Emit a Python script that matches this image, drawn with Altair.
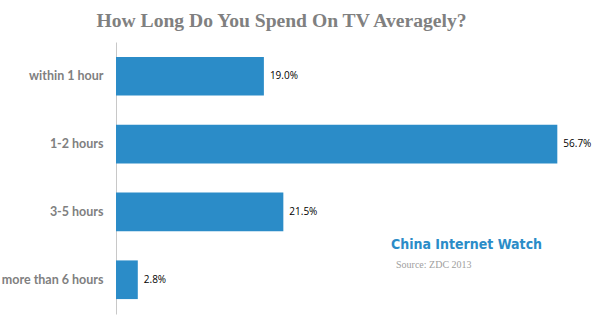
import altair as alt
import pandas as pd

categories = ["within 1 hour", "1-2 hours", "3-5 hours", "more than 6 hours"]
values = [19.0, 56.7, 21.5, 2.8]
labels = ["19.0%", "56.7%", "21.5%", "2.8%"]

df = pd.DataFrame({"cat": categories, "val": values, "lab": labels})

y = alt.Y("cat:N", sort=categories, title=None,
          scale=alt.Scale(paddingInner=0.43, paddingOuter=0.22),
          axis=alt.Axis(labelFont="Lato", labelFontSize=12.5, labelFontWeight="bold",
                        labelColor="#808080", ticks=False, labelPadding=13,
                        domainColor="#c8c8c8", domainWidth=1))
x = alt.X("val:Q", scale=alt.Scale(domain=[0, 60]), axis=None)

bars = alt.Chart(df).mark_bar(color="#2b8cc8").encode(x=x, y=y)
text = alt.Chart(df).mark_text(align="left", dx=6, font="Open Sans", fontSize=10,
                               color="#000000").encode(x=x, y=y, text="lab:N")

brand = alt.Chart(pd.DataFrame({"t": ["China Internet Watch"]})).mark_text(
    align="left", baseline="middle", font="'DejaVu Sans Condensed', 'Roboto', sans-serif",
    fontWeight="bold", fontSize=14, color="#2b8cc8").encode(
    x=alt.value(275), y=alt.value(203), text="t:N")
source = alt.Chart(pd.DataFrame({"t": ["Source: ZDC 2013"]})).mark_text(
    align="left", baseline="middle", font="Liberation Serif",
    fontSize=10, color="#a0a0a0").encode(x=alt.value(280), y=alt.value(223), text="t:N")

chart = (bars + text + brand + source).properties(
    width=467, height=272,
    background="white",
    title=alt.TitleParams("How Long Do You Spend On TV Averagely?", font="Liberation Serif",
                          fontSize=19.6, fontWeight="bold", color="#808080",
                          anchor="middle", offset=10, dx=-68),
    autosize="none",
    padding={"left": 116, "top": 42, "right": 17, "bottom": 22},
).configure_view(strokeWidth=0, stroke="transparent")

chart.save("out.html", embed_options={"renderer": "svg", "actions": False})
